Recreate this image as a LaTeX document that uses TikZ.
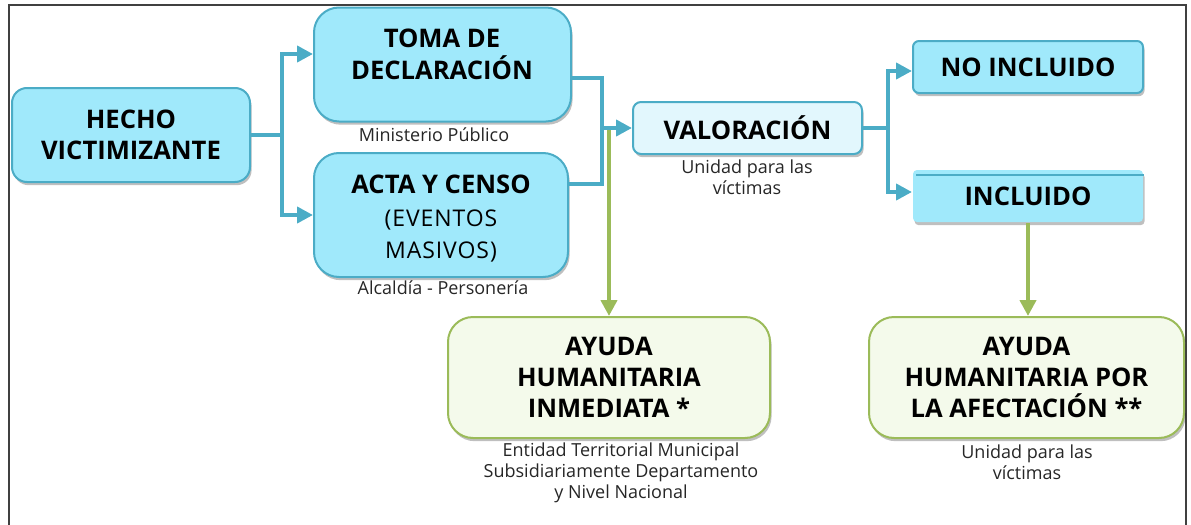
\documentclass[tikz,border=0pt]{standalone}
\usepackage{fontspec}
\setmainfont{Open Sans}
\newfontfamily\espaciada[LetterSpace=4]{Open Sans}
\usetikzlibrary{arrows.meta, positioning, shadows}

\definecolor{cian}{RGB}{160,233,251}
\definecolor{cianclaro}{RGB}{226,247,253}
\definecolor{azulborde}{RGB}{75,172,198}
\definecolor{verdeborde}{RGB}{155,187,89}
\definecolor{verdeclaro}{RGB}{244,250,235}

\begin{document}
\begin{tikzpicture}[x=0.5pt, y=-0.5pt,
    sombra/.style={drop shadow={shadow xshift=0.8pt, shadow yshift=-1.6pt, fill=black, opacity=0.25}},
    cajaazul/.style={draw=azulborde, fill=cian, line width=1pt, rounded corners=12pt, sombra,
      align=center, font=\fontsize{12.8}{15.5}\selectfont\bfseries, inner sep=0pt},
    cajaverde/.style={draw=verdeborde, fill=verdeclaro, line width=1pt, rounded corners=12.5pt, sombra,
      align=center, font=\fontsize{12.8}{15.5}\selectfont\bfseries, inner sep=0pt,
      minimum height=60.5pt},
    texto/.style={align=center, font=\fontsize{12.8}{16}\selectfont\bfseries},
    nota/.style={align=center, font=\fontsize{9}{10.5}\selectfont, text=black!85},
    linea/.style={draw=azulborde, line width=2pt},
    flecha/.style={linea, -{Triangle[length=8pt, width=8pt]}},
    flechaverde/.style={draw=verdeborde, line width=2pt, -{Triangle[length=8pt, width=8pt]}}]
  \useasboundingbox (0,0) rectangle (1191,525);
  % marco
  \draw[line width=1pt, black!75] (9,525) -- (9,5) -- (1186,5) -- (1186,525);

  % cajas azules
  \node[cajaazul, minimum width=119pt, minimum height=47pt, rounded corners=7.5pt] (hecho) at (131,135) {HECHO\\VICTIMIZANTE};
  \node[cajaazul, minimum width=128.5pt, minimum height=57pt, rounded corners=12.5pt] (toma) at (442.5,64.5) {};
  \node[texto] (tomatexto) at (442,54) {TOMA DE\\DECLARACIÓN};
  \node[cajaazul, minimum width=127pt, minimum height=62pt, rounded corners=12.5pt] (acta) at (441,215) {};
  \node[texto] (actatexto) at (441,184) {ACTA Y CENSO};
  \node[align=center, font=\fontsize{11.5}{16}\espaciada] (actaevento) at (441,236) {(EVENTOS\\MASIVOS)};
  \node[cajaazul, fill=cianclaro, minimum width=114.5pt, minimum height=26pt, rounded corners=4pt] (val) at (747.5,128) {VALORACIÓN};
  \node[cajaazul, minimum width=115pt, minimum height=26pt, rounded corners=3pt] (no) at (1028,67) {NO INCLUIDO};
  \node[cajaazul, draw=none, minimum width=115pt, minimum height=26pt, rounded corners=2pt] (inc) at (1028,196) {INCLUIDO};
  \draw[azulborde, line width=1pt] ([xshift=2pt, yshift=-3pt]inc.north west) -- ([yshift=-3pt]inc.north east);

  % cajas verdes
  \node[cajaverde, minimum width=161pt] (ayuda1) at (609,377.5) {AYUDA\\HUMANITARIA\\INMEDIATA *};
  \node[cajaverde, minimum width=157.5pt] (ayuda2) at (1026.5,377.5) {AYUDA\\HUMANITARIA POR\\LA AFECTACIÓN **};

  % notas
  \node[nota] (notatoma) at (434,135) {Ministerio Público};
  \node[nota] (notaacta) at (443,288) {Alcaldía - Personería};
  \node[nota] (notaval) at (747,177.5) {Unidad para las\\víctimas};
  \node[nota] (notaayuda1) at (621,472.5) {Entidad Territorial Municipal\\Subsidiariamente Departamento\\y Nivel Nacional};
  \node[nota] (notaayuda2) at (1027,462.5) {Unidad para las\\víctimas};

  % conectores
  \coordinate (bifA) at (282,135);
  \coordinate (unionB) at (602,128);
  \coordinate (bifC) at (888,128);
  \coordinate (bajada) at (609,130);
  \draw[linea] (hecho.east) -- (bifA);
  \draw[flecha] (bifA) |- ([yshift=5.25pt]toma.west);
  \draw[flecha] (bifA) |- (acta.west);
  \draw[linea] ([yshift=-6.75pt]toma.east) -| (unionB);
  \draw[linea] ([yshift=15.5pt]acta.east) -| (unionB);
  \draw[flecha] (unionB) -- (val.west);
  \draw[flechaverde] (bajada) -- (ayuda1.north);
  \draw[linea] (val.east) -- (bifC);
  \draw[flecha] (bifC) |- ([yshift=-2pt]no.west);
  \draw[flecha] (bifC) |- ([yshift=2pt]inc.west);
  \draw[flechaverde] (inc.south) -- (inc.south |- ayuda2.north);
\end{tikzpicture}
\end{document}
